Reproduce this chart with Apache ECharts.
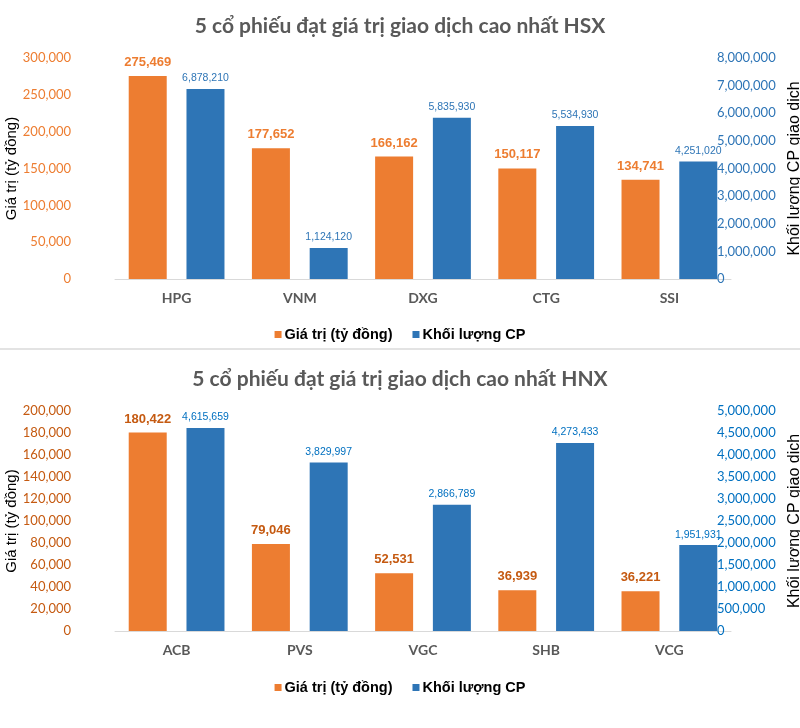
<!DOCTYPE html>
<html>
<head>
<meta charset="utf-8">
<script src="https://cdn.jsdelivr.net/npm/echarts@6/dist/echarts.min.js"></script>
<style>html,body{margin:0;padding:0;background:#fff}#c{width:800px;height:728px}</style>
</head>
<body>
<div id="c"></div>
<script>
// ---- data ----
const hsxCategories = ['HPG', 'VNM', 'DXG', 'CTG', 'SSI'];
const hsxValue = [275469, 177652, 166162, 150117, 134741];
const hsxVolume = [6878210, 1124120, 5835930, 5534930, 4251020];
const hnxCategories = ['ACB', 'PVS', 'VGC', 'SHB', 'VCG'];
const hnxValue = [180422, 79046, 52531, 36939, 36221];
const hnxVolume = [4615659, 3829997, 2866789, 4273433, 1951931];
const hsxTitle = '5 cổ phiếu đạt giá trị giao dịch cao nhất HSX';
const hnxTitle = '5 cổ phiếu đạt giá trị giao dịch cao nhất HNX';
const seriesNames = ['Giá trị (tỷ đồng)', 'Khối lượng CP'];
const leftAxisName = 'Giá trị (tỷ đồng)';
const rightAxisName = 'Khối lượng CP giao dịch';

const fmt = v => Number(v).toLocaleString('en-US');
const ORANGE = '#ED7D31', BLUE = '#2E75B6';
const AXISFONT = 'Lato, "Open Sans", sans-serif';
const ARIAL = '"Liberation Sans", Arial, sans-serif';

function makeAxes(gi, lmax, lint, rmax, rint, lcol, rcol) {
  return [
    { type: 'value', gridIndex: gi, position: 'left', min: 0, max: lmax, interval: lint,
      offset: 36, splitLine: { show: false }, axisLine: { show: false }, axisTick: { show: false },
      axisLabel: { color: lcol, fontFamily: AXISFONT, fontSize: 13, margin: 8, formatter: fmt },
      name: leftAxisName, nameLocation: 'middle', nameRotate: 90, nameGap: 60, nameMoveOverlap: false,
      nameTextStyle: { color: '#000', fontFamily: ARIAL, fontSize: 15 } },
    { type: 'value', gridIndex: gi, position: 'right', min: 0, max: rmax, interval: rint,
      offset: -14, splitLine: { show: false }, axisLine: { show: false }, axisTick: { show: false },
      axisLabel: { color: rcol, fontFamily: AXISFONT, fontSize: 13, margin: 0, formatter: fmt },
      name: rightAxisName, nameLocation: 'middle', nameRotate: 90, nameGap: 65,
      nameTextStyle: { color: '#000', fontFamily: ARIAL, fontSize: 16 } }
  ];
}

function makeSeries(xi, yi, vals, vols, ocol, bcol) {
  return [
    { type: 'bar', name: seriesNames[0], xAxisIndex: xi, yAxisIndex: yi, data: vals,
      barWidth: 38, barGap: '52%', itemStyle: { color: ORANGE },
      label: { show: true, position: 'top', distance: 7, color: ocol, fontFamily: ARIAL,
        fontWeight: 'bold', fontSize: 13, formatter: p => fmt(p.value) } },
    { type: 'bar', name: seriesNames[1], xAxisIndex: xi, yAxisIndex: yi + 1, data: vols,
      barWidth: 38, barGap: '52%', itemStyle: { color: BLUE },
      label: { show: true, position: 'top', distance: 5, color: bcol, fontFamily: ARIAL,
        fontSize: 10.5, formatter: p => fmt(p.value) } }
  ];
}

const xAxisBase = (gi, cats) => ({
  type: 'category', gridIndex: gi, data: cats,
  axisLine: { lineStyle: { color: '#d9d9d9', width: 1 } }, axisTick: { show: false },
  axisLabel: { color: '#595959', fontFamily: AXISFONT, fontWeight: 'bold', fontSize: 14, margin: 12 }
});

const legendBase = (top) => ({
  top: top, left: 'center', itemWidth: 7, itemHeight: 7, itemGap: 20, icon: 'rect',
  data: seriesNames,
  textStyle: { color: '#000', fontFamily: ARIAL, fontWeight: 'bold', fontSize: 14.5, padding: [0, 0, 0, -2] }
});

const chart = echarts.init(document.getElementById('c'));
chart.setOption({
  animation: false,
  backgroundColor: '#fff',
  title: [
    { text: hsxTitle, left: 'center', top: 11, textStyle: { color: '#595959', fontFamily: AXISFONT, fontWeight: 'bold', fontSize: 21 } },
    { text: hnxTitle, left: 'center', top: 364, textStyle: { color: '#595959', fontFamily: AXISFONT, fontWeight: 'bold', fontSize: 21 } }
  ],
  legend: [ legendBase(322), legendBase(675) ],
  grid: [
    { left: 115, right: 69, top: 58, height: 221, outerBoundsMode: 'none', containLabel: false },
    { left: 115, right: 69, top: 411, height: 220, outerBoundsMode: 'none', containLabel: false }
  ],
  xAxis: [ xAxisBase(0, hsxCategories), xAxisBase(1, hnxCategories) ],
  yAxis: [].concat(
    makeAxes(0, 300000, 50000, 8000000, 1000000, ORANGE, BLUE),
    makeAxes(1, 200000, 20000, 5000000, 500000, '#C55A11', '#0070C0')
  ),
  series: [].concat(
    makeSeries(0, 0, hsxValue, hsxVolume, ORANGE, BLUE),
    makeSeries(1, 2, hnxValue, hnxVolume, '#C55A11', '#0070C0')
  ),
  graphic: [
    { type: 'rect', left: 0, top: 348, shape: { width: 800, height: 2 }, style: { fill: '#e3e3e3' } }
  ]
});
</script>
</body>
</html>
